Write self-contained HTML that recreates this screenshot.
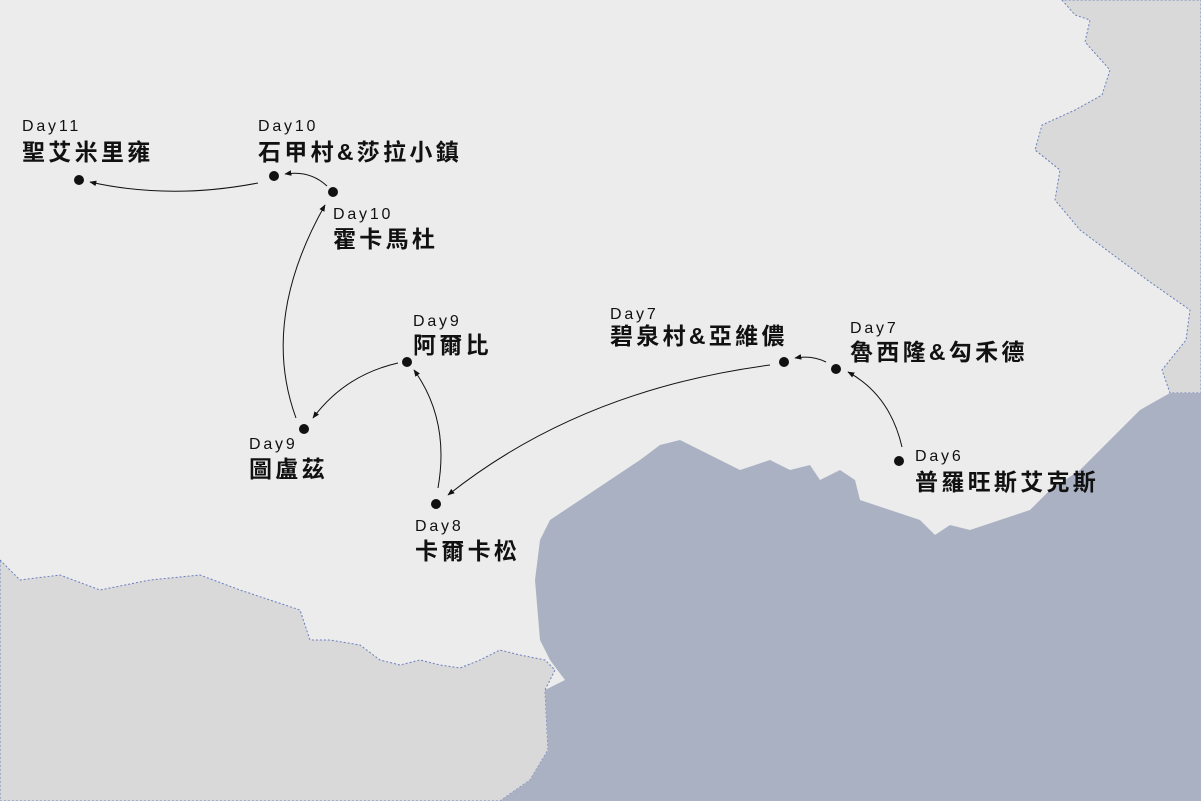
<!DOCTYPE html>
<html><head><meta charset="utf-8"><style>
html,body{margin:0;padding:0;background:#ececec;}
svg{display:block}
.d{font-family:"Liberation Sans","Noto Sans CJK TC",sans-serif;font-size:16px;fill:#111;letter-spacing:2.8px}
.n{font-family:"Liberation Sans","Noto Sans CJK TC",sans-serif;font-size:23px;font-weight:bold;fill:#111;letter-spacing:3.3px}
</style></head><body>
<svg width="1201" height="801" viewBox="0 0 1201 801" xmlns="http://www.w3.org/2000/svg">
<defs><marker id="a" viewBox="0 0 10 10" refX="9" refY="5" markerWidth="7" markerHeight="7" orient="auto"><path d="M0,1 L10,5 L0,9 Z" fill="#111"/></marker></defs>
<rect width="1201" height="801" fill="#ececec"/>
<path d="M1062,0 L1075,15 L1090,20 L1085,42 L1110,70 L1102,95 L1075,110 L1042,125 L1035,150 L1060,170 L1055,200 L1080,230 L1120,260 L1150,282 L1190,310 L1186,340 L1162,370 L1170,393 L1201,393 L1201,0 Z" fill="#d9d9d9" stroke="#6a7fc0" stroke-width="1" stroke-dasharray="2,2"/>
<path d="M0,560 L20,580 L60,575 L100,590 L150,580 L200,575 L240,590 L270,600 L300,610 L310,640 L330,640 L360,645 L380,660 L400,665 L420,660 L440,665 L460,668 L480,660 L500,650 L520,655 L545,660 L555,670 L545,690 L548,750 L530,780 L500,801 L0,801 Z" fill="#d9d9d9" stroke="#6a7fc0" stroke-width="1" stroke-dasharray="2,2"/>
<path d="M1201,393 L1170,393 L1140,410 L1110,440 L1080,470 L1050,490 L1030,510 L1000,520 L970,530 L950,525 L935,535 L920,520 L890,510 L860,500 L855,480 L840,470 L820,480 L810,465 L790,470 L770,460 L740,470 L720,460 L700,450 L680,440 L660,445 L640,460 L610,480 L580,500 L550,520 L540,540 L535,580 L540,640 L550,660 L565,680 L545,690 L548,750 L530,780 L500,801 L1201,801 Z" fill="#aab1c2"/>
<g fill="none" stroke="#111" stroke-width="1" marker-end="url(#a)">
<path d="M902,447 Q890,395 848,372"/>
<path d="M826,362 Q812,355 795,358"/>
<path d="M770,365 Q580,390 448,495"/>
<path d="M438,488 Q450,420 414,370"/>
<path d="M398,363 Q345,375 313,418"/>
<path d="M296,418 Q260,320 325,205"/>
<path d="M327,186 Q310,170 285,174"/>
<path d="M258,183 Q170,200 90,182"/>
</g>
<g fill="#111">
<circle cx="79" cy="180" r="5"/><circle cx="274" cy="176" r="5"/><circle cx="333" cy="192" r="5"/>
<circle cx="407" cy="362" r="5"/><circle cx="304" cy="429" r="5"/><circle cx="436" cy="504" r="5"/>
<circle cx="784" cy="362" r="5"/><circle cx="836" cy="369" r="5"/><circle cx="899" cy="461" r="5"/>
</g>
<text class="d" x="22" y="131">Day11</text><text class="n" x="22" y="160">聖艾米里雍</text>
<text class="d" x="258" y="131">Day10</text><text class="n" x="258" y="160">石甲村&amp;莎拉小鎮</text>
<text class="d" x="333" y="219">Day10</text><text class="n" x="333" y="247">霍卡馬杜</text>
<text class="d" x="413" y="326">Day9</text><text class="n" x="413" y="353">阿爾比</text>
<text class="d" x="249" y="449">Day9</text><text class="n" x="249" y="477">圖盧茲</text>
<text class="d" x="415" y="531">Day8</text><text class="n" x="415" y="559">卡爾卡松</text>
<text class="d" x="610" y="319">Day7</text><text class="n" x="610" y="344">碧泉村&amp;亞維儂</text>
<text class="d" x="850" y="333">Day7</text><text class="n" x="850" y="360">魯西隆&amp;勾禾德</text>
<text class="d" x="915" y="461">Day6</text><text class="n" x="915" y="490">普羅旺斯艾克斯</text>
</svg>
</body></html>
